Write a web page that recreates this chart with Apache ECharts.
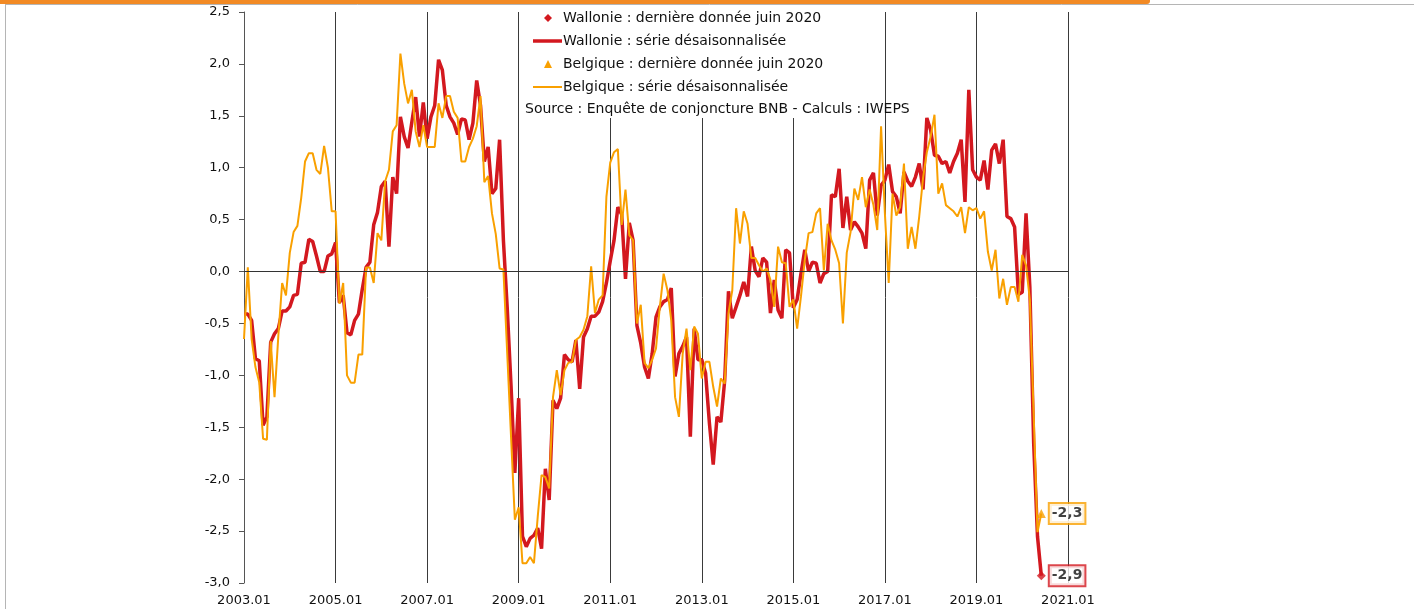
<!DOCTYPE html>
<html>
<head>
<meta charset="utf-8">
<script src="https://cdn.jsdelivr.net/npm/echarts@6/dist/echarts.min.js"></script>
<style>
html,body{margin:0;padding:0;background:#fff;}
#chart{width:1414px;height:609px;}
</style>
</head>
<body>
<div id="chart"></div>
<script>
// ---- Data ----
const startYear = 2003;
const endYear = 2021; // axis ends at 2021.01
const lastLabel = "2020.06";

const categories = [];
for (let y = startYear; y <= endYear; y++) {
  for (let m = 1; m <= 12; m++) {
    if (y === endYear && m > 1) break;
    categories.push(y + "." + (m < 10 ? "0" + m : "" + m));
  }
}

const yTicks = [-3, -2.5, -2, -1.5, -1, -0.5, 0, 0.5, 1, 1.5, 2, 2.5];

const wallonie = [
-0.41,-0.41,-0.47,-0.84,-0.86,-1.48,-1.40,-0.68,-0.60,-0.55,-0.38,-0.38,
-0.34,-0.23,-0.22,0.08,0.09,0.31,0.29,0.15,0.00,0.00,0.15,0.17,
0.28,-0.30,-0.23,-0.59,-0.61,-0.47,-0.41,-0.17,0.04,0.09,0.45,0.57,
0.82,0.87,0.24,0.91,0.75,1.49,1.30,1.19,1.44,1.68,1.30,1.63,
1.28,1.49,1.60,2.04,1.94,1.60,1.49,1.43,1.32,1.47,1.46,1.27,
1.43,1.84,1.60,1.06,1.20,0.75,0.80,1.27,0.30,-0.35,-1.10,-1.94,
-1.22,-2.55,-2.65,-2.57,-2.54,-2.47,-2.67,-1.90,-2.20,-1.24,-1.32,-1.22,
-0.80,-0.85,-0.87,-0.66,-1.13,-0.63,-0.55,-0.43,-0.43,-0.39,-0.29,-0.11,
0.10,0.30,0.62,0.55,-0.07,0.47,0.30,-0.52,-0.69,-0.92,-1.03,-0.79,
-0.44,-0.34,-0.29,-0.27,-0.16,-1.01,-0.79,-0.72,-0.63,-1.59,-0.55,-0.85,
-0.85,-0.98,-1.46,-1.86,-1.40,-1.45,-1.05,-0.19,-0.45,-0.34,-0.23,-0.10,
-0.24,0.24,0.01,-0.05,0.13,0.09,-0.40,-0.08,-0.37,-0.45,0.21,0.18,
-0.35,-0.27,-0.02,0.21,0.00,0.09,0.08,-0.11,-0.02,0.00,0.74,0.72,
0.99,0.42,0.72,0.40,0.48,0.43,0.37,0.22,0.88,0.95,0.54,0.83,
0.88,1.03,0.77,0.72,0.56,0.96,0.87,0.82,0.91,1.04,0.79,1.48,
1.36,1.12,1.11,1.04,1.06,0.95,1.06,1.14,1.27,0.67,1.75,0.98,
0.91,0.88,1.07,0.79,1.17,1.23,1.04,1.27,0.53,0.51,0.43,-0.22,
-0.20,0.56,-0.15,-1.65,-2.55,-2.93
];

const belgique = [
-0.65,0.04,-0.65,-0.92,-1.07,-1.61,-1.62,-0.67,-1.21,-0.62,-0.11,-0.23,
0.18,0.38,0.44,0.71,1.06,1.14,1.14,0.98,0.94,1.21,1.00,0.58,
0.58,-0.31,-0.11,-1.00,-1.07,-1.07,-0.80,-0.80,0.04,0.04,-0.11,0.37,
0.30,0.87,0.98,1.35,1.41,2.10,1.81,1.62,1.75,1.35,1.20,1.41,
1.20,1.20,1.20,1.62,1.48,1.69,1.69,1.54,1.48,1.06,1.06,1.20,
1.28,1.40,1.69,0.86,0.92,0.56,0.36,0.03,0.02,-0.79,-1.59,-2.39,
-2.27,-2.81,-2.81,-2.75,-2.81,-2.36,-1.96,-1.98,-2.09,-1.21,-0.95,-1.19,
-0.95,-0.88,-0.87,-0.66,-0.63,-0.56,-0.43,0.05,-0.40,-0.27,-0.23,0.72,
1.05,1.15,1.18,0.45,0.79,0.35,0.30,-0.50,-0.32,-0.88,-0.93,-0.85,
-0.74,-0.34,-0.02,-0.18,-0.47,-1.21,-1.40,-0.79,-0.55,-0.95,-0.53,-0.60,
-1.03,-0.87,-0.87,-1.11,-1.30,-1.03,-1.08,-0.40,-0.18,0.61,0.27,0.58,
0.46,0.13,0.13,0.06,0.00,0.03,-0.08,-0.34,0.24,0.09,0.08,-0.34,
-0.27,-0.55,-0.24,0.11,0.37,0.38,0.56,0.61,0.01,0.46,0.30,0.21,
0.08,-0.50,0.18,0.38,0.80,0.69,0.91,0.62,0.79,0.64,0.40,1.40,
0.56,-0.11,0.75,0.54,0.62,1.04,0.22,0.43,0.22,0.53,0.90,1.15,
1.30,1.51,0.75,0.85,0.64,0.61,0.58,0.53,0.62,0.37,0.62,0.59,
0.61,0.51,0.58,0.19,0.01,0.21,-0.26,-0.07,-0.32,-0.15,-0.15,-0.29,
0.16,0.06,-0.27,-1.37,-2.51,-2.33
];

const legendTexts = [
  "Wallonie : dernière donnée juin 2020",
  "Wallonie : série désaisonnalisée",
  "Belgique : dernière donnée juin 2020",
  "Belgique : série désaisonnalisée"
];
const sourceText = "Source : Enquête de conjoncture BNB - Calculs : IWEPS";

// ---- Styles ----
const RED = "#D3181F";
const ORANGE = "#F9A000";
const FONT = "DejaVu Sans";
const TXT = "#111";
const fmt = v => v.toFixed(1).replace(".", ",");

const chart = echarts.init(document.getElementById("chart"), null, {renderer: "canvas"});

const lastIdx = wallonie.length - 1;

const txt = (x, y, s) => ({
  type: "text", z: 5,
  style: {x: x, y: y, text: s, font: "14px " + FONT, fill: TXT, verticalAlign: "middle", textVerticalAlign: "middle"}
});

const option = {
  animation: false,
  backgroundColor: "#fff",
  textStyle: {fontFamily: FONT},
  grid: {left: 244, right: 346, top: 12, bottom: 26, containLabel: false},
  xAxis: {
    type: "category",
    data: categories,
    boundaryGap: false,
    axisLine: {show: false},
    axisTick: {show: false},
    axisLabel: {interval: 23, color: TXT, fontSize: 13, fontFamily: FONT, margin: 11},
    splitLine: {show: true, interval: 23, lineStyle: {color: "#3a3a3a", width: 1}}
  },
  yAxis: {
    type: "value",
    min: -3, max: 2.5, interval: 0.5,
    axisLine: {show: true, lineStyle: {color: "#555", width: 1}},
    axisTick: {show: true, inside: false, length: 5, lineStyle: {color: "#555"}},
    axisLabel: {color: TXT, fontSize: 13, fontFamily: FONT, margin: 14, formatter: v => fmt(v)},
    splitLine: {show: false}
  },
  graphic: [
    {type: "rect", shape: {x: 0, y: 0, width: 1150, height: 4, r: [0, 0, 3, 0]}, style: {fill: "#F28A24"}, z: 10},
    {type: "line", shape: {x1: 5, y1: 4.5, x2: 1414, y2: 4.5}, style: {stroke: "#b5b5b5", lineWidth: 1}, z: 10},
    {type: "line", shape: {x1: 5.5, y1: 5, x2: 5.5, y2: 609}, style: {stroke: "#b5b5b5", lineWidth: 1}, z: 10},
    {type: "rect", shape: {x: 521, y: 5, width: 358, height: 113}, style: {fill: "#fff"}, z: 1},
    {type: "polygon", shape: {points: [[548, 14], [552, 18], [548, 22], [544, 18]]}, style: {fill: RED}, z: 5},
    txt(563, 18, legendTexts[0]),
    {type: "line", shape: {x1: 533, y1: 41, x2: 562, y2: 41}, style: {stroke: RED, lineWidth: 3.5}, z: 5},
    txt(563, 41, legendTexts[1]),
    {type: "polygon", shape: {points: [[548, 60], [552, 68], [544, 68]]}, style: {fill: ORANGE}, z: 5},
    txt(563, 64, legendTexts[2]),
    {type: "line", shape: {x1: 533, y1: 87, x2: 562, y2: 87}, style: {stroke: ORANGE, lineWidth: 2}, z: 5},
    txt(563, 87, legendTexts[3]),
    txt(525, 109, sourceText)
  ],
  series: [
    {
      name: legendTexts[1],
      type: "line",
      data: wallonie,
      symbol: "none",
      lineStyle: {color: RED, width: 3.5},
      itemStyle: {color: RED},
      z: 3,
      markLine: {
        silent: true,
        symbol: "none",
        label: {show: false},
        lineStyle: {color: "#333", width: 1, type: "solid"},
        data: [{yAxis: 0}]
      }
    },
    {
      name: legendTexts[3],
      type: "line",
      data: belgique,
      symbol: "none",
      lineStyle: {color: ORANGE, width: 2},
      itemStyle: {color: ORANGE},
      z: 4
    },
    {
      name: legendTexts[0],
      type: "scatter",
      data: [[lastLabel, wallonie[lastIdx]]],
      symbol: "diamond",
      symbolSize: 9,
      itemStyle: {color: RED},
      z: 6,
      label: {
        show: true, position: "right", distance: 4,
        formatter: p => fmt(p.value[1]),
        color: TXT, fontSize: 14, fontFamily: FONT, fontWeight: "bold",
        backgroundColor: "#fff", borderColor: RED, borderWidth: 2,
        padding: [3, 2, 2, 2]
      }
    },
    {
      name: legendTexts[2],
      type: "scatter",
      data: [[lastLabel, belgique[lastIdx]]],
      symbol: "triangle",
      symbolSize: 9,
      itemStyle: {color: ORANGE},
      z: 6,
      label: {
        show: true, position: "right", distance: 4,
        formatter: p => fmt(p.value[1]),
        color: TXT, fontSize: 14, fontFamily: FONT, fontWeight: "bold",
        backgroundColor: "#fff", borderColor: ORANGE, borderWidth: 2,
        padding: [3, 2, 2, 2]
      }
    }
  ]
};
chart.setOption(option);
</script>
</body>
</html>
